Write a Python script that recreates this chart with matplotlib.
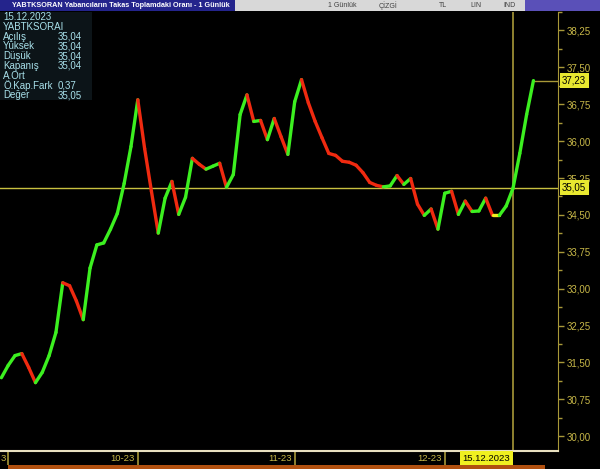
import numpy as np
import matplotlib
matplotlib.use('Agg')
from matplotlib import pyplot as plt
from matplotlib.collections import LineCollection
from matplotlib.patches import Rectangle

plt.rcParams['font.family'] = ['Liberation Sans', 'DejaVu Sans']

# daily values (one per trading day)
values = [31.19, 31.44, 31.64, 31.68, 31.40, 31.09, 31.30, 31.64, 32.11, 33.12,
          33.06, 32.75, 32.37, 33.42, 33.89, 33.93, 34.21, 34.53, 35.14, 35.89,
          36.84, 35.85, 34.98, 34.13, 34.84, 35.18, 34.51, 34.86, 35.65, 35.53,
          35.43, 35.49, 35.55, 35.06, 35.32, 36.54, 36.94, 36.40, 36.42, 36.03,
          36.46, 36.09, 35.73, 36.80, 37.25, 36.78, 36.40, 36.07, 35.75, 35.71,
          35.59, 35.57, 35.51, 35.36, 35.16, 35.10, 35.07, 35.09, 35.30, 35.12,
          35.24, 34.72, 34.49, 34.62, 34.21, 34.94, 34.98, 34.51, 34.78, 34.57,
          34.58, 34.84, 34.49, 34.49, 34.68, 35.04, 35.75, 36.54, 37.23]
month_ticks = [1, 20, 43, 65]
month_labels = ['3', '10-23', '11-23', '12-23']
cursor_idx = 75
cursor_label = '15.12.2023'
cursor_value = 35.05
last_value = 37.23
yticks = [30.00, 30.75, 31.50, 32.25, 33.00, 33.75, 34.50, 35.25, 36.00, 36.75, 37.50, 38.25]
info_rows = [('15.12.2023', ''), ('YABTKSORAI', ''), ('Açılış', '35,04'), ('Yüksek', '35,04'),
             ('Düşük', '35,04'), ('Kapanış', '35,04'), ('A.Ort', ''), ('Ö.Kap.Fark', '0,37'),
             ('Değer', '35,05')]

olive = '#a89838'
lab_col = '#c8b848'
green = '#3cf020'
red = '#f02a10'
yellow = '#f0f020'

fig = plt.figure(figsize=(6, 4.69), dpi=100, facecolor='black')
ax = fig.add_axes([0, 18 / 469, 558 / 600, 439 / 469])
ax.set_facecolor('black')

x = np.arange(len(values))
y = np.array(values)
pts = np.column_stack([x, y]).reshape(-1, 1, 2)
segs = np.concatenate([pts[:-1], pts[1:]], axis=1)
cols = [green if b > a else (red if b < a else yellow) for a, b in zip(y[:-1], y[1:])]
ax.add_collection(LineCollection(segs, colors=cols, linewidths=2.4, capstyle='round', zorder=3))

ax.set_xlim(-0.2, 81.6)
ax.set_ylim(29.70, 38.58)

ax.axhline(cursor_value, color='#c8c040', lw=1, zorder=2)
ax.axvline(cursor_idx, color=olive, lw=1.2, zorder=2)
ax.plot([len(values) - 1, 81.6], [last_value, last_value], color=olive, lw=1, zorder=2)

for s in ['top', 'left']:
    ax.spines[s].set_visible(False)
ax.spines['right'].set_color(olive)
ax.spines['bottom'].set_color('#e8e0c0')
ax.spines['bottom'].set_linewidth(1.5)

ax.yaxis.tick_right()
ax.set_yticks(yticks)
ax.set_yticklabels([('%.2f' % v).replace('.', ',') for v in yticks])
ax.set_yticks([v + 0.375 for v in yticks], minor=True)
ax.tick_params(axis='y', which='both', colors=olive, labelcolor=lab_col, labelsize=7,
               length=4, width=1, pad=2)
ax.tick_params(axis='y', which='minor', length=3)

ax.set_xticks(month_ticks)
ax.set_xticklabels([])
ax.tick_params(axis='x', colors=olive, length=10, width=1.2, direction='out')
for t, lab in zip(month_ticks, month_labels):
    ax.annotate(lab, xy=(t, 0), xycoords=('data', 'axes fraction'), xytext=(-2, -5.5),
                textcoords='offset points', ha='right', va='center', fontsize=6.8, color=lab_col)
ax.annotate(cursor_label, xy=(cursor_idx, 0), xycoords=('data', 'axes fraction'), xytext=(-2, -5.5),
            textcoords='offset points', ha='right', va='center', fontsize=6.8, color='black',
            bbox=dict(boxstyle='square,pad=0.3', fc=yellow, ec='none'))

for v in [cursor_value, last_value]:
    ax.annotate(('%.2f' % v).replace('.', ','), xy=(1, v), xycoords=('axes fraction', 'data'),
                xytext=(3, 0), textcoords='offset points', ha='left', va='center',
                fontsize=7, color='black',
                bbox=dict(boxstyle='square,pad=0.25', fc='#e8e830', ec='none'))

# info panel
fig.patches.append(Rectangle((0, 1 - 100 / 469), 92 / 600, 88 / 469, transform=fig.transFigure,
                             fc='#0c1418', ec='none', zorder=5))
for i, (k, v) in enumerate(info_rows):
    yy = 1 - (17 + i * 9.8) / 469
    fig.text(3 / 600, yy, k, fontsize=7, color='#a8e0ea', va='center', zorder=6)
    if v:
        fig.text(58 / 600, yy, v, fontsize=7, color='#a8e0ea', va='center', zorder=6)

# title bar
fig.patches.append(Rectangle((0, 1 - 11 / 469), 235 / 600, 11 / 469, transform=fig.transFigure,
                             fc='#24248c', ec='none'))
fig.patches.append(Rectangle((235 / 600, 1 - 11 / 469), 290 / 600, 11 / 469,
                             transform=fig.transFigure, fc='#d8d8d8', ec='none'))
fig.patches.append(Rectangle((525 / 600, 1 - 11 / 469), 75 / 600, 11 / 469,
                             transform=fig.transFigure, fc='#5a50b8', ec='none'))
fig.text(12 / 600, 1 - 5.5 / 469, 'YABTKSORAN Yabancıların Takas Toplamdaki Oranı - 1 Günlük',
         fontsize=5.2, color='white', weight='bold', va='center')
for xp, t in [(372, '1 Günlük'), (418, 'ÇİZGİ'), (473, 'TL'), (506, 'LIN'), (540, 'IND')]:
    fig.text((xp - 30) / 600, 1 - 5.5 / 469, t, fontsize=5, color='#404040', va='center', ha='center')

# bottom scroll bar
fig.patches.append(Rectangle((8 / 600, 0), 537 / 600, 4 / 469, transform=fig.transFigure,
                             fc='#b05010', ec='none'))

fig.savefig('out.png', dpi=100, facecolor='black')
